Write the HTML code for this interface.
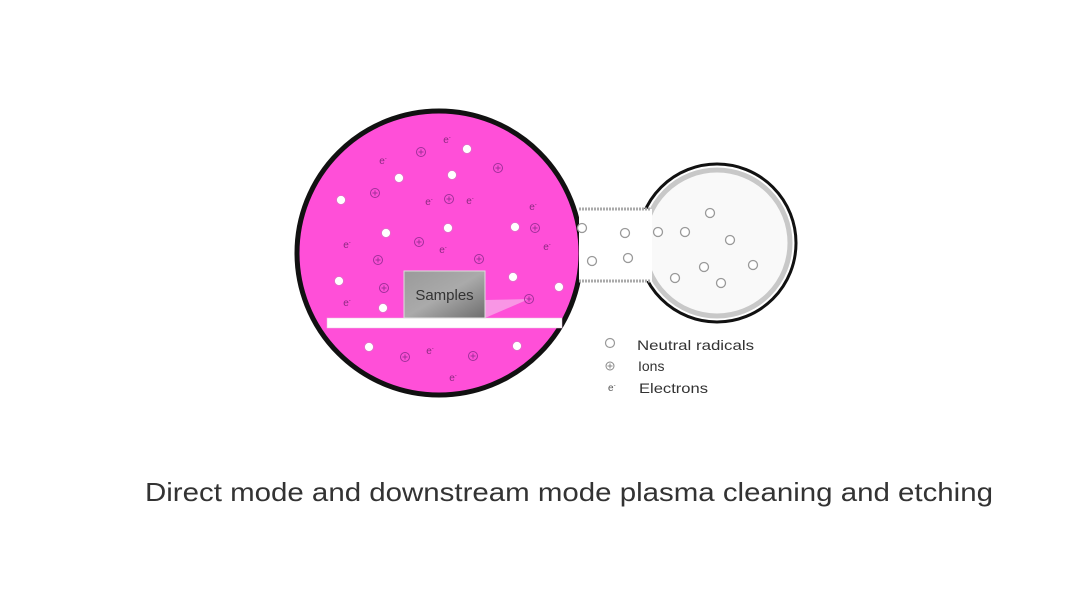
<!DOCTYPE html>
<html><head><meta charset="utf-8"><style>
html,body{margin:0;padding:0;background:#fff;width:1080px;height:611px;overflow:hidden}
svg{display:block}
text{font-family:"Liberation Sans","DejaVu Sans",sans-serif}
</style></head><body>
<svg width="1080" height="611" viewBox="0 0 1080 611" xmlns="http://www.w3.org/2000/svg">
<defs>
<linearGradient id="g" x1="0" y1="0" x2="1" y2="1">
<stop offset="0" stop-color="#9a9a9a"/><stop offset="0.5" stop-color="#aaaaaa"/><stop offset="1" stop-color="#6e6e6e"/>
</linearGradient>
<g id="w"><circle r="4.5" fill="#fff" stroke="#e070c8" stroke-width="0.8"/></g>
<g id="i"><circle r="4.5" fill="none" stroke="#a0309a" stroke-width="1"/><path d="M-2.5 0H2.5M0 -2.5V2.5" stroke="#a0309a" stroke-width="1"/></g>
<g id="n"><circle r="4.5" fill="#fff" stroke="#999" stroke-width="1.3"/></g>
</defs>
<!-- small circle -->
<circle cx="717" cy="243" r="79" fill="#fff" stroke="#111" stroke-width="3"/>
<circle cx="717" cy="243" r="73" fill="#f9f9f9" stroke="#c8c8c8" stroke-width="5"/>
<!-- big circle -->
<circle cx="439" cy="253" r="142" fill="#ff4fd8" stroke="#111" stroke-width="5"/>
<!-- tube -->
<rect x="579" y="209" width="73" height="72" fill="#fff"/>
<line x1="579" y1="209" x2="650" y2="209" stroke="#aaa" stroke-width="3" stroke-dasharray="2 1"/>
<line x1="579" y1="281" x2="650" y2="281" stroke="#aaa" stroke-width="3" stroke-dasharray="2 1"/>
<!-- platform -->
<rect x="327" y="318" width="235" height="10" fill="#fff" stroke="#e9c0e0" stroke-width="0.5"/>
<polygon points="485,300 529,299 485,318" fill="#f8a8e8" opacity="0.8"/>
<rect x="404" y="271" width="81" height="47" fill="url(#g)" stroke="#ddd" stroke-width="1"/>
<text x="444.5" y="300" font-size="15" fill="#333" text-anchor="middle">Samples</text>
<!-- white dots -->
<use href="#w" x="467" y="149"/><use href="#w" x="399" y="178"/><use href="#w" x="452" y="175"/>
<use href="#w" x="341" y="200"/><use href="#w" x="386" y="233"/><use href="#w" x="448" y="228"/>
<use href="#w" x="515" y="227"/><use href="#w" x="339" y="281"/><use href="#w" x="513" y="277"/>
<use href="#w" x="559" y="287"/><use href="#w" x="383" y="308"/><use href="#w" x="369" y="347"/>
<use href="#w" x="517" y="346"/>
<!-- ions -->
<use href="#i" x="421" y="152"/><use href="#i" x="498" y="168"/><use href="#i" x="375" y="193"/>
<use href="#i" x="449" y="199"/><use href="#i" x="535" y="228"/><use href="#i" x="419" y="242"/>
<use href="#i" x="378" y="260"/><use href="#i" x="479" y="259"/><use href="#i" x="384" y="288"/>
<use href="#i" x="529" y="299"/><use href="#i" x="405" y="357"/><use href="#i" x="473" y="356"/>
<!-- electrons -->
<g font-family="Liberation Serif,serif" font-size="10" fill="#8a2a80" text-anchor="middle">
<text x="447" y="143">e<tspan dy="-4" font-size="6">-</tspan></text>
<text x="383" y="164">e<tspan dy="-4" font-size="6">-</tspan></text>
<text x="429" y="205">e<tspan dy="-4" font-size="6">-</tspan></text>
<text x="470" y="204">e<tspan dy="-4" font-size="6">-</tspan></text>
<text x="533" y="210">e<tspan dy="-4" font-size="6">-</tspan></text>
<text x="347" y="248">e<tspan dy="-4" font-size="6">-</tspan></text>
<text x="443" y="253">e<tspan dy="-4" font-size="6">-</tspan></text>
<text x="547" y="250">e<tspan dy="-4" font-size="6">-</tspan></text>
<text x="347" y="306">e<tspan dy="-4" font-size="6">-</tspan></text>
<text x="430" y="354">e<tspan dy="-4" font-size="6">-</tspan></text>
<text x="453" y="381">e<tspan dy="-4" font-size="6">-</tspan></text>
</g>
<!-- neutrals -->
<use href="#n" x="582" y="228"/><use href="#n" x="625" y="233"/><use href="#n" x="592" y="261"/>
<use href="#n" x="628" y="258"/><use href="#n" x="658" y="232"/><use href="#n" x="685" y="232"/>
<use href="#n" x="710" y="213"/><use href="#n" x="730" y="240"/><use href="#n" x="704" y="267"/>
<use href="#n" x="753" y="265"/><use href="#n" x="675" y="278"/><use href="#n" x="721" y="283"/>
<!-- legend -->
<circle cx="610" cy="343" r="4.5" fill="#fff" stroke="#999" stroke-width="1.2"/>
<circle cx="610" cy="366" r="4" fill="none" stroke="#888" stroke-width="1"/><path d="M607.5 366H612.5M610 363.5V368.5" stroke="#888" stroke-width="1"/>
<text x="608" y="391" font-family="Liberation Serif,serif" font-size="10" fill="#555">e<tspan dy="-4" font-size="6">-</tspan></text>
<g font-size="14" fill="#333">
<text x="637" y="350" textLength="117" lengthAdjust="spacingAndGlyphs">Neutral radicals</text>
<text x="638" y="371">Ions</text>
<text x="639" y="393" textLength="69" lengthAdjust="spacingAndGlyphs">Electrons</text>
</g>
<!-- caption -->
<text x="145" y="501" font-size="26" fill="#333" textLength="848" lengthAdjust="spacingAndGlyphs">Direct mode and downstream mode plasma cleaning and etching</text>
</svg>
</body></html>
